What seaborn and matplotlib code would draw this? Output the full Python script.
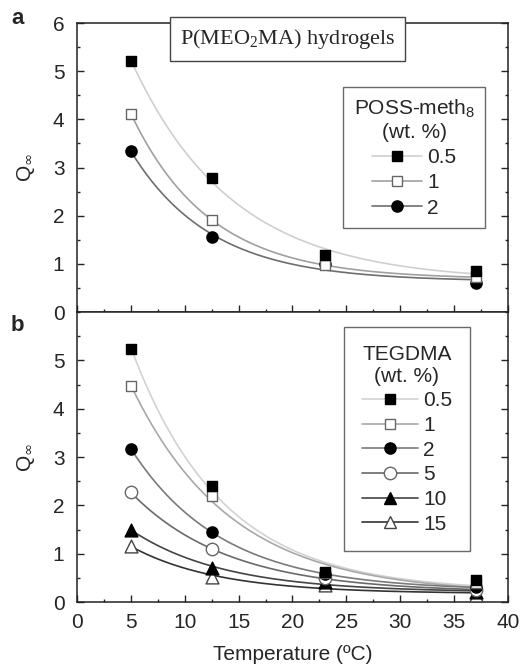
import numpy as np
import pandas as pd
import matplotlib
matplotlib.use("Agg")
import matplotlib.pyplot as plt
from matplotlib.lines import Line2D
from matplotlib.ticker import MultipleLocator
import seaborn as sns

# ---- data -------------------------------------------------------------
temps = [5, 12.5, 23, 37]

poss_labels = ["0.5", "1", "2"]
poss_05 = [5.21, 2.79, 1.18, 0.86]
poss_1 = [4.12, 1.91, 0.98, 0.72]
poss_2 = [3.35, 1.56, 0.99, 0.60]

teg_labels = ["0.5", "1", "2", "5", "10", "15"]
teg_05 = [5.24, 2.41, 0.62, 0.45]
teg_1 = [4.46, 2.20, 0.60, 0.40]
teg_2 = [3.17, 1.45, 0.57, 0.31]
teg_5 = [2.27, 1.09, 0.50, 0.25]
teg_10 = [1.50, 0.71, 0.42, 0.20]
teg_15 = [1.16, 0.52, 0.35, 0.15]

xticks = [0, 5, 10, 15, 20, 25, 30, 35, 40]
yticks_a = [0, 1, 2, 3, 4, 5, 6]
yticks_b = [0, 1, 2, 3, 4, 5]

# ---- style --------------------------------------------------------------
sns.set_style("ticks")
plt.rcParams["font.family"] = ["Liberation Sans", "DejaVu Sans"]
plt.rcParams["axes.linewidth"] = 1.1
plt.rcParams["xtick.direction"] = "in"
plt.rcParams["ytick.direction"] = "in"

FS = 15

# marker spec: (marker, face, edge, size, curve colour)
poss_style = [
    ("s", "black", "black", 60, "#cfcfcf"),
    ("s", "white", "#666666", 60, "#a0a0a0"),
    ("o", "black", "black", 65, "#6e6e6e"),
]
teg_style = [
    ("s", "black", "black", 60, "#d2d2d2"),
    ("s", "white", "#666666", 60, "#a8a8a8"),
    ("o", "black", "black", 65, "#7a7a7a"),
    ("o", "white", "#666666", 80, "#6a6a6a"),
    ("^", "black", "black", 85, "#444444"),
    ("^", "white", "#444444", 85, "#333333"),
]


def exp_decay_fit(x, y):
    """Least-squares fit of y = y0 + A*exp(-x/t) (grid over t)."""
    x = np.asarray(x, float)
    y = np.asarray(y, float)
    best = None
    for t in np.linspace(0.5, 80, 1600):
        m = np.column_stack([np.ones_like(x), np.exp(-x / t)])
        coef = np.linalg.lstsq(m, y, rcond=None)[0]
        err = float(((m @ coef - y) ** 2).sum())
        if best is None or err < best[0]:
            best = (err, t, coef)
    _, t, coef = best
    return lambda xx: coef[0] + coef[1] * np.exp(-np.asarray(xx) / t)


def draw_panel(ax, series, labels, styles, legend_title, anchor,
               borderpad, labelspacing, handlelength):
    xs = np.linspace(min(temps), max(temps), 200)
    for ys, st in zip(series, styles):
        f = exp_decay_fit(temps, ys)
        curve = pd.DataFrame({"T": xs, "Q": f(xs)})
        sns.lineplot(data=curve, x="T", y="Q", color=st[4], lw=1.2,
                     ax=ax, zorder=2)
    for ys, st in reversed(list(zip(series, styles))):
        pts = pd.DataFrame({"T": temps, "Q": ys})
        sns.scatterplot(data=pts, x="T", y="Q", marker=st[0], color=st[1],
                        edgecolor=st[2], linewidth=1.0, s=st[3], ax=ax,
                        zorder=3)
    handles = [
        Line2D([], [], color=st[4], lw=1.2, marker=st[0],
               markerfacecolor=st[1], markeredgecolor=st[2],
               markeredgewidth=1.0, markersize=np.sqrt(st[3]))
        for st in styles
    ]
    leg = ax.legend(handles, labels, title=legend_title, loc="upper right",
                    bbox_to_anchor=anchor, fontsize=FS, title_fontsize=FS,
                    frameon=True, fancybox=False, handlelength=handlelength,
                    handletextpad=0.25, labelspacing=labelspacing,
                    borderpad=borderpad, borderaxespad=0, alignment="center")
    leg.get_title().set_multialignment("center")
    leg.get_frame().set_edgecolor("#444444")
    leg.get_frame().set_linewidth(1.0)


fig = plt.figure(figsize=(5.22, 6.65), dpi=100)
ax_a = fig.add_axes([0.1475, 0.5308, 0.8255, 0.4346])
ax_b = fig.add_axes([0.1475, 0.0947, 0.8255, 0.4361])

draw_panel(ax_a, [poss_05, poss_1, poss_2], poss_labels, poss_style,
           "POSS-meth$_\\mathregular{8}$\n(wt. %)", (0.947, 0.779),
           borderpad=0.5, labelspacing=0.3, handlelength=2.4)
draw_panel(ax_b, [teg_05, teg_1, teg_2, teg_5, teg_10, teg_15], teg_labels,
           teg_style, "TEGDMA\n(wt. %)", (0.912, 0.948),
           borderpad=0.85, labelspacing=0.27, handlelength=2.7)

for ax in (ax_a, ax_b):
    ax.set_xlim(0, 40)
    ax.set_ylim(0, 6)
    ax.xaxis.set_minor_locator(MultipleLocator(2.5))
    ax.yaxis.set_minor_locator(MultipleLocator(0.5))
    ax.tick_params(which="major", length=5, width=1.0, labelsize=FS,
                   left=True, right=True, top=False, bottom=True)
    ax.tick_params(which="minor", length=2.5, width=1.0,
                   left=True, right=True, top=False, bottom=True)
    ax.tick_params(axis="y", which="major", pad=9)
    ax.tick_params(axis="x", which="major", pad=8)
    ax.set_ylabel("Q$_\\infty$", fontsize=FS, labelpad=11)
    for s in ax.spines.values():
        s.set_color("#222222")

ax_a.set_yticks(yticks_a)
ax_a.set_xticks(xticks)
ax_a.tick_params(axis="x", labelbottom=False)
ax_a.set_xlabel("")

ax_b.set_yticks(yticks_b)
ax_b.set_xticks(xticks)
ax_b.set_xlabel("Temperature (ºC)", fontsize=FS, labelpad=9)

ax_a.text(0.488, 0.946, "P(MEO$_\\mathregular{2}$MA) hydrogels",
          transform=ax_a.transAxes, ha="center", va="center",
          fontsize=16, family=["Liberation Serif", "DejaVu Serif"],
          bbox=dict(boxstyle="square,pad=0.45", fc="white", ec="#444444",
                    lw=1.0), zorder=5)

fig.text(0.033, 0.972, "a", fontsize=16, fontweight="bold",
         ha="center", va="center")
fig.text(0.033, 0.511, "b", fontsize=16, fontweight="bold",
         ha="center", va="center")

fig.savefig("out.png", dpi=100, facecolor="white")
